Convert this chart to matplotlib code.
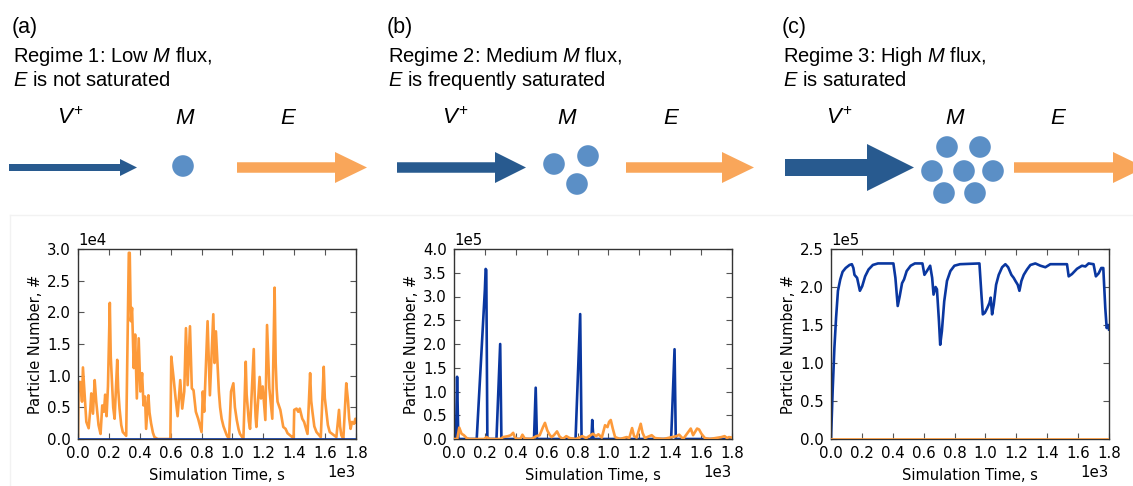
import numpy as np
import matplotlib
matplotlib.use("Agg")
import matplotlib.pyplot as plt
from matplotlib.patches import FancyArrow, Circle

plt.rcParams['mathtext.fontset'] = 'custom'
plt.rcParams['mathtext.rm'] = 'Liberation Sans'
plt.rcParams['mathtext.it'] = 'Liberation Sans:italic'

# ---------------- datos ----------------
# (a) regimen 1: E (naranja), M (azul ~ 0)
t_a = [0, 4, 15, 26, 32, 43, 54, 69, 80, 86, 97, 108, 118, 133, 146, 157, 168, 176, 185, 194,
       206, 212, 219, 228, 237, 254, 260, 269, 280, 290, 312, 329, 335, 342, 350, 361, 370, 381,
       393, 404, 415, 424, 434, 441, 456, 463, 473, 485, 495, 516, 598, 604, 619, 632, 645, 662,
       675, 688, 699, 710, 725, 737, 748, 763, 778, 800, 808, 817, 839, 854, 876, 884, 893, 905,
       912, 920, 930, 942, 963, 978, 991, 1006, 1016, 1028, 1040, 1049, 1071, 1086, 1092, 1099,
       1106, 1114, 1138, 1144, 1150, 1155, 1176, 1185, 1196, 1204, 1213, 1224, 1239, 1258, 1273,
       1280, 1286, 1292, 1310, 1329, 1344, 1357, 1387, 1396, 1400, 1415, 1426, 1436, 1452, 1464,
       1486, 1503, 1510, 1518, 1530, 1544, 1572, 1591, 1598, 1606, 1618, 1630, 1673, 1690, 1697,
       1705, 1718, 1737, 1748, 1756, 1765, 1774, 1787, 1796, 1800]
e_a = [0, 9000, 9000, 5900, 11300, 7000, 2700, 1700, 4800, 7200, 4000, 9300, 5900, 2200, 800,
       5300, 4300, 7000, 3600, 8300, 21500, 13000, 9600, 5000, 3200, 12500, 8000, 4800, 2200,
       1100, 500, 29400, 29400, 18600, 20700, 11200, 16500, 6400, 15900, 7500, 10400, 5300, 6700,
       1600, 6900, 4200, 2500, 1000, 300, 0, 0, 13000, 9600, 6400, 3600, 9300, 4800, 7500, 17500,
       8500, 17800, 8000, 7700, 4300, 3200, 1100, 7500, 4300, 18600, 6900, 19700, 12000, 17000,
       11000, 7500, 5000, 3200, 2000, 600, 0, 7500, 8800, 5000, 3000, 1500, 800, 0, 12200, 7000,
       5000, 2800, 1600, 14200, 7000, 3500, 1900, 9800, 6400, 8300, 5900, 3000, 18000, 8000, 3200,
       23900, 12000, 8000, 5900, 4600, 1900, 1600, 900, 300, 0, 4600, 4800, 4300, 4800, 3200, 2700,
       800, 10400, 6000, 4300, 2000, 1100, 300, 11400, 6500, 4800, 2200, 1100, 300, 4600, 2000,
       600, 0, 8800, 6100, 3200, 1600, 2700, 2400, 3200, 2600]
tm_a = [0, 1800]
m_a = [0, 0]

# (b) regimen 2
tm_b = [0, 13, 20, 28, 147, 200, 205, 209, 216, 275, 299, 307, 518, 529, 537, 787, 817, 826,
        890, 895, 903, 1406, 1428, 1436, 1800]
m_b = [0, 0, 131000, 0, 0, 315000, 358000, 356000, 0, 0, 200000, 0, 0, 108000, 0, 0, 263000, 0,
       0, 40000, 0, 0, 189000, 0, 0]
te_b = [0, 21, 34, 49, 64, 82, 100, 195, 211, 232, 300, 318, 350, 368, 383, 393, 410, 430, 443,
        458, 500, 533, 555, 576, 589, 604, 619, 632, 647, 667, 684, 705, 727, 748, 790, 830, 856,
        899, 920, 935, 957, 978, 994, 1004, 1015, 1028, 1043, 1075, 1118, 1135, 1153, 1166, 1183,
        1209, 1221, 1236, 1280, 1301, 1355, 1441, 1458, 1484, 1533, 1548, 1574, 1587, 1602, 1624,
        1656, 1731, 1752, 1768, 1780, 1800]
e_b = [0, 0, 24000, 11000, 8000, 2000, 0, 0, 4000, 0, 0, 4000, 6000, 8000, 13000, 4000, 0, 0,
       9000, 1000, 0, 6000, 8000, 25000, 34000, 18000, 9000, 4000, 8000, 16000, 5000, 0, 6000,
       2000, 0, 6000, 2000, 11000, 6000, 10000, 3000, 29000, 25000, 36000, 40000, 22000, 4000, 0,
       4000, 2000, 23000, 6000, 3000, 32000, 13000, 2000, 8000, 2000, 0, 6000, 9000, 0, 22000,
       8000, 22000, 20000, 11000, 2000, 0, 4000, 6000, 2000, 4000, 3000]

# (c) regimen 3
tm_c = [0, 11, 22, 33, 45, 60, 75, 95, 120, 135, 145, 152, 169, 187, 202, 221, 243, 271, 304,
        404, 417, 432, 445, 460, 473, 490, 516, 543, 592, 605, 621, 642, 655, 664, 677, 686, 699,
        707, 718, 733, 751, 773, 799, 835, 961, 974, 983, 996, 1011, 1026, 1034, 1043, 1054, 1069,
        1086, 1108, 1129, 1147, 1168, 1183, 1194, 1209, 1220, 1233, 1248, 1269, 1291, 1323, 1356,
        1388, 1420, 1528, 1539, 1560, 1593, 1625, 1647, 1668, 1700, 1715, 1733, 1750, 1763, 1776,
        1785, 1795, 1800]
m_c = [0, 65000, 120000, 160000, 195000, 210000, 220000, 225000, 229000, 230000, 225000, 216000,
       212000, 195000, 201000, 214000, 223000, 229000, 231000, 231000, 212000, 175000, 188000,
       205000, 210000, 221000, 228000, 231000, 231000, 216000, 221000, 228000, 212000, 190000,
       200000, 197000, 155000, 124000, 142000, 181000, 208000, 221000, 228000, 230000, 231000,
       190000, 164000, 166000, 172000, 179000, 186000, 164000, 177000, 203000, 216000, 226000,
       230000, 226000, 216000, 212000, 208000, 203000, 195000, 208000, 216000, 223000, 229000,
       231000, 228000, 226000, 230000, 230000, 214000, 217000, 224000, 228000, 227000, 231000,
       230000, 214000, 218000, 225000, 225000, 172000, 146000, 150000, 144000]
te_c = [0, 1800]
e_c = [0, 0]

x_ticks = [0, 200, 400, 600, 800, 1000, 1200, 1400, 1600, 1800]

AZUL = '#0a37a0'
NARANJA = '#fd9a3a'
AZUL_FLECHA = '#285a8f'
AZUL_BOLA = '#5b8fc6'
NARANJA_FLECHA = '#f9a65a'

fig = plt.figure(figsize=(11.33, 4.86), dpi=100)

# ---------------- esquemas de arriba ----------------
ax0 = fig.add_axes([0, 0, 1, 1])
ax0.set_xlim(0, 1133)
ax0.set_ylim(486, 0)
ax0.axis('off')

ax0.plot([10, 1133], [215, 215], color='#f2f2f2', lw=1)
ax0.plot([10, 10], [215, 486], color='#f2f2f2', lw=1)

paneles = [
    (12, '(a)', 'Regime 1: Low $M$ flux,', '$E$ is not saturated'),
    (387, '(b)', 'Regime 2: Medium $M$ flux,', '$E$ is frequently saturated'),
    (782, '(c)', 'Regime 3: High $M$ flux,', '$E$ is saturated'),
]
for x0, letra, l1, l2 in paneles:
    ax0.text(x0, 33, letra, fontsize=15.5, family='Liberation Sans', va='baseline')
    ax0.text(x0 + 1, 62, l1, fontsize=14.5, family='Liberation Sans', va='baseline')
    ax0.text(x0 + 1, 86, l2, fontsize=14.5, family='Liberation Sans', va='baseline')

etiquetas = [(57, 175, 280), (442, 557, 663), (826, 945, 1050)]
for xv, xm, xe in etiquetas:
    ax0.text(xv, 124, '$V^{+}$', fontsize=16, va='baseline')
    ax0.text(xm, 124, '$M$', fontsize=16, va='baseline')
    ax0.text(xe, 124, '$E$', fontsize=16, va='baseline')

yf = 167.5
flechas = [
    (9, 137, 7, 17, 17, AZUL_FLECHA),
    (237, 367, 10.5, 31, 32, NARANJA_FLECHA),
    (397, 526, 10.5, 31, 31, AZUL_FLECHA),
    (626, 754, 10.5, 31, 32, NARANJA_FLECHA),
    (785, 914, 17, 47, 47, AZUL_FLECHA),
    (1014, 1145, 10.5, 31, 32, NARANJA_FLECHA),
]
for xa, xb, w, hw, hl, c in flechas:
    ax0.add_patch(FancyArrow(xa, yf, xb - xa, 0, width=w, head_width=hw, head_length=hl,
                             length_includes_head=True, color=c, lw=0))

bolas = [(183, 166), (554, 164), (588, 156), (577, 184),
         (947, 147), (980, 147), (932, 171), (964, 171), (993, 171), (944, 193), (975, 193)]
for cx, cy in bolas:
    ax0.add_patch(Circle((cx, cy), 10.8, color=AZUL_BOLA, lw=0))

# ---------------- graficas ----------------
def panel(left, t1, y1, t2, y2, ymax, paso, azul_arriba):
    ax = fig.add_axes([left / 1133, 47 / 486, 278 / 1133, 190 / 486])
    za, zn = (3, 2) if azul_arriba else (2, 3)
    ax.plot(t1, y1, color=AZUL, lw=1.9, zorder=za)
    ax.plot(t2, y2, color=NARANJA, lw=1.9, zorder=zn)
    ax.set_xlim(0, 1800)
    ax.set_ylim(0, ymax)
    ax.set_xticks(x_ticks)
    ax.set_yticks(np.arange(0, ymax + paso / 2, paso))
    ax.ticklabel_format(style='sci', scilimits=(0, 0), axis='both')
    ax.tick_params(direction='in', top=True, right=True, length=4.5, width=0.8,
                   color='#555555', labelsize=10.8, pad=5)
    for s in ax.spines.values():
        s.set_color('#333333')
        s.set_linewidth(1)
    ax.xaxis.get_offset_text().set_fontsize(10.8)
    ax.yaxis.get_offset_text().set_fontsize(10.8)
    ax.set_xlabel('Simulation Time, s', fontsize=10.5, labelpad=5)
    ax.set_ylabel('Particle Number, #', fontsize=10.5, labelpad=3)
    return ax

panel(78, tm_a, m_a, t_a, e_a, 3e4, 5e3, True)
panel(454, tm_b, m_b, te_b, e_b, 4e5, 5e4, False)
panel(831, tm_c, m_c, te_c, e_c, 2.5e5, 5e4, False)

fig.savefig('out.png', dpi=100)
